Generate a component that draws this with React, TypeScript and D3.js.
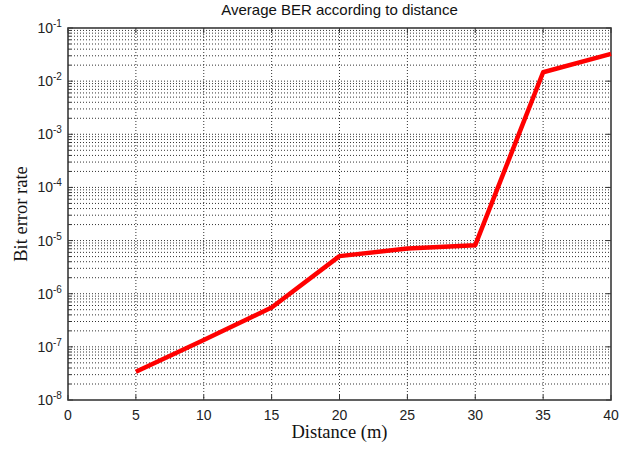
import { useEffect, useRef } from "react";
import * as d3 from "d3";

const distances = [5, 10, 15, 20, 25, 30, 35, 40];
const berValues = [3.4e-8, 1.35e-7, 5.5e-7, 5.1e-6, 7.1e-6, 8.2e-6, 1.47e-2, 3.25e-2];
const xTicks = [0, 5, 10, 15, 20, 25, 30, 35, 40];
const yExponents = [-8, -7, -6, -5, -4, -3, -2, -1];

export default function App() {
  const svgRef = useRef<SVGSVGElement>(null);

  useEffect(() => {
    const svg = d3.select(svgRef.current);
    svg.selectAll("*").remove();

    const w = 636, h = 449;
    const left = 68, right = 611, top = 28, bottom = 400;

    const x = d3.scaleLinear().domain([0, 40]).range([left, right]);
    const y = d3.scaleLog().domain([1e-8, 1e-1]).range([bottom, top]);

    svg.append("rect").attr("width", w).attr("height", h).attr("fill", "#fff");

    // minor + major values for the log grid
    const minors: number[] = [];
    for (let e = -8; e < -1; e++) {
      for (let m = 2; m <= 9; m++) minors.push(m * Math.pow(10, e));
    }
    const majors = yExponents.map((e) => Math.pow(10, e));

    const grid = svg.append("g")
      .attr("stroke", "#333")
      .attr("stroke-width", 1)
      .attr("stroke-dasharray", "1,2");

    grid.selectAll("line.h")
      .data(minors.concat(majors.slice(1, -1)))
      .join("line")
      .attr("x1", left).attr("x2", right)
      .attr("y1", (d) => y(d)).attr("y2", (d) => y(d));

    grid.selectAll("line.v")
      .data(xTicks.slice(1, -1))
      .join("line")
      .attr("x1", (d) => x(d)).attr("x2", (d) => x(d))
      .attr("y1", top).attr("y2", bottom);

    // ticks (inward, both sides)
    const ticks = svg.append("g").attr("stroke", "#333").attr("stroke-width", 1);
    ticks.selectAll("line.ym")
      .data(majors)
      .join("line")
      .attr("x1", left).attr("x2", left + 5)
      .attr("y1", (d) => y(d)).attr("y2", (d) => y(d));
    ticks.selectAll("line.yr")
      .data(majors)
      .join("line")
      .attr("x1", right).attr("x2", right - 5)
      .attr("y1", (d) => y(d)).attr("y2", (d) => y(d));
    ticks.selectAll("line.yn")
      .data(minors)
      .join("line")
      .attr("x1", left).attr("x2", left + 3)
      .attr("y1", (d) => y(d)).attr("y2", (d) => y(d));
    ticks.selectAll("line.xb")
      .data(xTicks)
      .join("line")
      .attr("x1", (d) => x(d)).attr("x2", (d) => x(d))
      .attr("y1", bottom).attr("y2", bottom - 5);
    ticks.selectAll("line.xt")
      .data(xTicks)
      .join("line")
      .attr("x1", (d) => x(d)).attr("x2", (d) => x(d))
      .attr("y1", top).attr("y2", top + 5);

    // axes box
    svg.append("rect")
      .attr("x", left).attr("y", top)
      .attr("width", right - left).attr("height", bottom - top)
      .attr("fill", "none")
      .attr("stroke", "#3a3a3a")
      .attr("stroke-width", 1.6);

    // data line
    const line = d3.line<number>()
      .x((_, i) => x(distances[i]))
      .y((d) => y(d));

    svg.append("path")
      .datum(berValues)
      .attr("d", line)
      .attr("fill", "none")
      .attr("stroke", "#ff0000")
      .attr("stroke-width", 4.5)
      .attr("stroke-linejoin", "round");

    const sans = "Liberation Sans, Arial, sans-serif";
    const serif = "Liberation Serif, Times New Roman, serif";

    // x tick labels
    svg.append("g")
      .selectAll("text")
      .data(xTicks)
      .join("text")
      .attr("x", (d) => x(d))
      .attr("y", bottom + 20)
      .attr("text-anchor", "middle")
      .attr("font-family", sans)
      .attr("font-size", 14)
      .attr("fill", "#222")
      .text((d) => d);

    // y tick labels 10^e
    const yl = svg.append("g")
      .selectAll("text")
      .data(yExponents)
      .join("text")
      .attr("x", left - 15)
      .attr("y", (e) => y(Math.pow(10, e)) + 5)
      .attr("text-anchor", "end")
      .attr("font-family", sans)
      .attr("font-size", 14)
      .attr("fill", "#222");
    yl.append("tspan").text("10");
    yl.append("tspan")
      .attr("x", left - 15)
      .attr("dy", -6)
      .attr("text-anchor", "start")
      .attr("font-size", 10)
      .text((e) => String(e));

    // title
    svg.append("text")
      .attr("x", (left + right) / 2)
      .attr("y", 15)
      .attr("text-anchor", "middle")
      .attr("font-family", sans)
      .attr("font-size", 15)
      .attr("fill", "#111")
      .text("Average BER according to distance");

    // axis labels
    svg.append("text")
      .attr("x", (left + right) / 2)
      .attr("y", 438)
      .attr("text-anchor", "middle")
      .attr("font-family", serif)
      .attr("font-size", 18.5)
      .attr("fill", "#111")
      .text("Distance (m)");

    svg.append("text")
      .attr("transform", `translate(27,${(top + bottom) / 2}) rotate(-90)`)
      .attr("text-anchor", "middle")
      .attr("font-family", serif)
      .attr("font-size", 18.5)
      .attr("fill", "#111")
      .text("Bit error rate");
  }, []);

  return (
    <svg
      ref={svgRef}
      width={636}
      height={449}
      style={{ position: "absolute", left: 0, top: 0 }}
    />
  );
}
